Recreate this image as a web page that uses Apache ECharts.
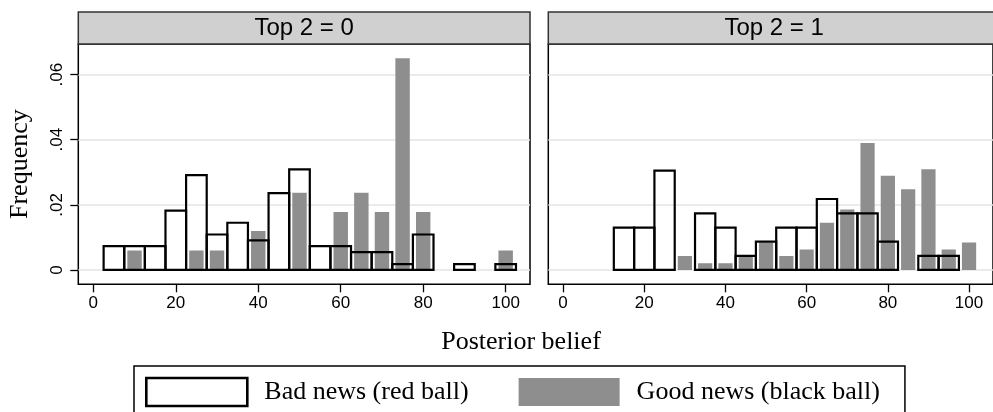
<!DOCTYPE html>
<html><head><meta charset="utf-8">
<script src="https://cdn.jsdelivr.net/npm/echarts@6/dist/echarts.min.js"></script>
<style>html,body{margin:0;padding:0;background:#fff}#c{width:993px;height:412px}</style>
</head><body><div id="c"></div>
<script>
// ---- data ----
const bins = [5,10,15,20,25,30,35,40,45,50,55,60,65,70,75,80,85,90,95,100];
const top2_0_bad  = [0.0073,0.0073,0.0073,0.0182,0.0291,0.0109,0.0145,0.0091,0.0236,0.0309,0.0073,0.0073,0.0055,0.0055,0.0018,0.0109,null,0.0018,null,0.0018];
const top2_0_good = [null,0.0060,null,null,0.0060,0.0060,null,0.0120,null,0.0237,null,0.0178,0.0237,0.0178,0.0650,0.0178,null,null,null,0.0060];
const top2_1_bad  = [null,null,0.0130,0.0130,0.0305,null,0.0174,0.0130,0.0043,0.0087,0.0130,0.0130,0.0218,0.0174,0.0174,0.0087,null,0.0043,0.0043,null];
const top2_1_good = [null,null,null,null,null,0.0043,0.0021,0.0021,0.0043,0.0084,0.0043,0.0063,0.0145,0.0186,0.0390,0.0289,0.0248,0.0309,0.0063,0.0084];
const panelTitles = ['Top 2 = 0','Top 2 = 1'];
const seriesNames = ['Bad news (red ball)','Good news (black ball)'];
const xTicks = [0,20,40,60,80,100];
const yTicks = [0,0.02,0.04,0.06];
const yTickLabels = ['0','.02','.04','.06'];
const xTitle = 'Posterior belief';
const yTitle = 'Frequency';

// ---- layout ----
const SANS = 'Liberation Sans', SERIF = 'Liberation Serif';
const GT = 44, GH = 240.3, GW = 451.7, LEFTS = [78.3, 548.3];
const XMIN = -3.64, XMAX = 105.9, YMIN = -0.0044, YMAX = 0.0694;
const GRAY = '#8e8e8e';
const BIN_W = 5, GRAY_W = 3.5;

const panels = [[top2_0_bad, top2_0_good],[top2_1_bad, top2_1_good]];
const toData = v => bins.map((b,i)=>[b, v[i]]).filter(d=>d[1]!=null);

function barRenderer(width, style) {
  return function (params, api) {
    const x = api.value(0), y = api.value(1);
    const a = api.coord([x - width/2, y]);
    const b = api.coord([x + width/2, 0]);
    return {type: 'rect', shape: {x: a[0], y: a[1], width: b[0]-a[0], height: b[1]-a[1]}, style: style};
  };
}

const grid = [], xAxis = [], yAxis = [], series = [], graphic = [];
panels.forEach((p, k) => {
  grid.push({left: LEFTS[k], top: GT, width: GW, height: GH, show: true,
    borderColor: '#000', borderWidth: 1.5, backgroundColor: 'transparent', containLabel: false});
  xAxis.push({gridIndex: k, type: 'value', min: XMIN, max: XMAX,
    axisLine: {show: false, onZero: false},
    axisTick: {show: true, length: 8, customValues: xTicks, lineStyle: {color: '#000', width: 1.3}},
    axisLabel: {customValues: xTicks, color: '#000', fontFamily: SANS, fontSize: 17, margin: 11},
    splitLine: {show: false}});
  yAxis.push({gridIndex: k, type: 'value', min: YMIN, max: YMAX,
    axisLine: {show: false, onZero: false},
    axisTick: {show: k === 0, length: 8, customValues: yTicks, lineStyle: {color: '#000', width: 1.3}},
    axisLabel: {show: k === 0, customValues: yTicks, rotate: 90, color: '#000', fontFamily: SANS, fontSize: 17, margin: 12,
      formatter: v => { let bi = 0; yTicks.forEach((t,i)=>{ if (Math.abs(t-v) < Math.abs(yTicks[bi]-v)) bi = i; }); return yTickLabels[bi]; }},
    splitLine: {show: true, lineStyle: {color: '#e4e4e4', width: 1.6}},
    name: k === 0 ? yTitle : '', nameLocation: 'middle', nameRotate: 90, nameGap: 45,
    nameTextStyle: {fontFamily: SERIF, fontSize: 26, color: '#000'}});
  series.push({type: 'custom', name: seriesNames[1], xAxisIndex: k, yAxisIndex: k, clip: true,
    encode: {x: 0, y: 1}, data: toData(p[1]), itemStyle: {color: GRAY}, z: 2,
    renderItem: barRenderer(GRAY_W, {fill: GRAY, stroke: null})});
  series.push({type: 'custom', name: seriesNames[0], xAxisIndex: k, yAxisIndex: k, clip: true,
    encode: {x: 0, y: 1}, data: toData(p[0]), itemStyle: {color: '#fff', borderColor: '#000', borderWidth: 2.2}, z: 3,
    renderItem: barRenderer(BIN_W, {fill: null, stroke: '#000', lineWidth: 2.2})});
  graphic.push({type: 'rect', shape: {x: LEFTS[k], y: 12, width: GW, height: GT-12},
    style: {fill: '#d0d0d0', stroke: '#333', lineWidth: 1.5}, z: 10});
  graphic.push({type: 'text', x: LEFTS[k] + GW/2, y: 28.5, z: 11,
    style: {text: panelTitles[k], fill: '#000', fontFamily: SANS, fontSize: 24, align: 'center', verticalAlign: 'middle'}});
});
graphic.push({type: 'text', x: 521, y: 342, z: 11,
  style: {text: xTitle, fill: '#000', fontFamily: SERIF, fontSize: 26, align: 'center', verticalAlign: 'middle'}});

const chart = echarts.init(document.getElementById('c'), null, {renderer: 'canvas'});
chart.setOption({
  animation: false,
  backgroundColor: '#fff',
  grid, xAxis, yAxis, series, graphic,
  legend: {
    data: [
      {name: seriesNames[0], icon: 'rect', itemStyle: {color: '#fff', borderColor: '#000', borderWidth: 2.6}},
      {name: seriesNames[1], icon: 'rect', itemStyle: {color: GRAY, borderWidth: 0}}
    ],
    left: 134, top: 366, orient: 'horizontal', itemWidth: 101, itemHeight: 28, itemGap: 50,
    padding: [10.7, 25, 40, 11], borderColor: '#000', borderWidth: 1.5, selectedMode: false,
    textStyle: {fontFamily: SERIF, fontSize: 26, color: '#000', padding: [0,0,0,12]}
  }
});
</script></body></html>
